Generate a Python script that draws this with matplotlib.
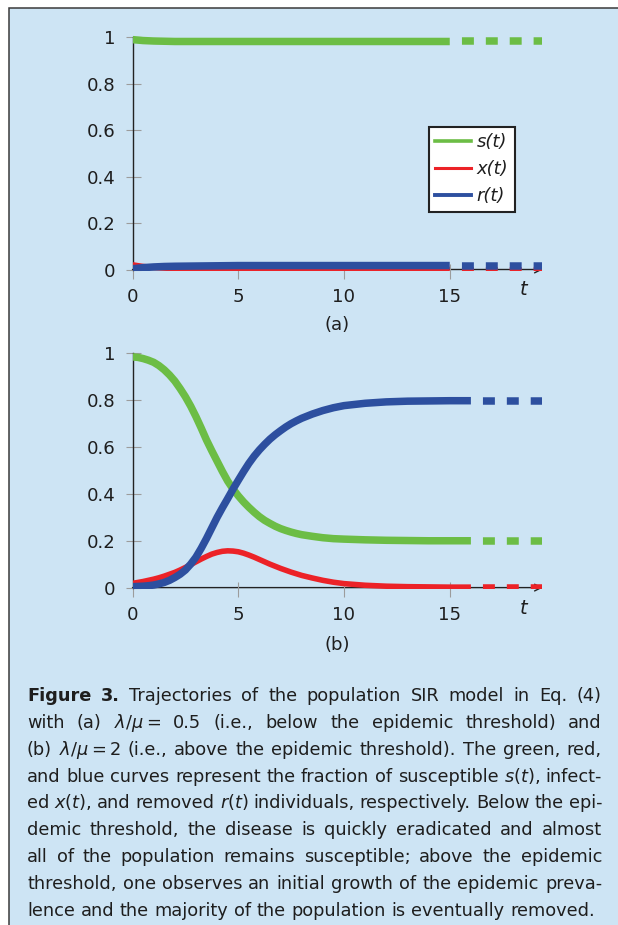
import matplotlib
matplotlib.use('Agg')
import matplotlib.pyplot as plt
from matplotlib.lines import Line2D
from matplotlib.patches import Rectangle
from matplotlib.transforms import IdentityTransform

plt.rcParams['font.family'] = ['DejaVu Sans']
plt.rcParams['mathtext.fontset'] = 'dejavusans'
plt.rcParams['lines.scale_dashes'] = False

W, H = 618, 925
BG = '#cde4f4'
GREEN = '#6cbd45'
RED = '#ec2227'
BLUE = '#2d4f9f'
INK = '#1e1e1e'

# panel (a): lambda/mu = 0.5
t_a = [0, 0.5, 1, 1.5, 2, 3, 4, 5, 6, 8, 10, 12, 15]
s_a = [0.990, 0.986, 0.984, 0.983, 0.982, 0.982, 0.982, 0.982, 0.982, 0.982, 0.982, 0.982, 0.982]
x_a = [0.020, 0.013, 0.009, 0.006, 0.004, 0.003, 0.002, 0.001, 0.001, 0.000, 0.000, 0.000, 0.000]
r_a = [0.003, 0.008, 0.011, 0.013, 0.014, 0.015, 0.016, 0.017, 0.017, 0.017, 0.017, 0.017, 0.017]

# panel (b): lambda/mu = 2
t_b = [0, 0.25, 0.5, 0.75, 1, 1.25, 1.5, 1.75, 2, 2.25, 2.5, 2.75, 3, 3.25, 3.5, 3.75,
       4, 4.25, 4.5, 4.75, 5, 5.25, 5.5, 5.75, 6, 6.25, 6.5, 6.75, 7, 7.25, 7.5, 7.75,
       8, 8.5, 9, 9.5, 10, 11, 12, 13, 14, 15, 16]
s_b = [0.985, 0.983, 0.978, 0.971, 0.962, 0.948, 0.930, 0.908, 0.882, 0.850, 0.815,
       0.775, 0.730, 0.681, 0.630, 0.584, 0.540, 0.496, 0.455, 0.421, 0.392, 0.366,
       0.343, 0.322, 0.303, 0.287, 0.274, 0.262, 0.252, 0.244, 0.237, 0.231, 0.226,
       0.219, 0.213, 0.209, 0.207, 0.204, 0.202, 0.201, 0.200, 0.200, 0.200]
x_b = [0.018, 0.022, 0.026, 0.031, 0.036, 0.042, 0.049, 0.057, 0.065, 0.075, 0.086,
       0.098, 0.110, 0.122, 0.133, 0.143, 0.150, 0.155, 0.157, 0.156, 0.153, 0.147,
       0.139, 0.130, 0.120, 0.110, 0.100, 0.091, 0.082, 0.074, 0.066, 0.059, 0.052,
       0.041, 0.031, 0.023, 0.017, 0.010, 0.006, 0.004, 0.003, 0.002, 0.002]
r_b = [0.004, 0.005, 0.006, 0.008, 0.011, 0.016, 0.022, 0.031, 0.043, 0.057, 0.075,
       0.100, 0.130, 0.168, 0.210, 0.255, 0.300, 0.341, 0.380, 0.420, 0.458, 0.495,
       0.530, 0.561, 0.588, 0.612, 0.634, 0.653, 0.670, 0.686, 0.700, 0.712, 0.723,
       0.741, 0.756, 0.768, 0.777, 0.787, 0.793, 0.796, 0.797, 0.798, 0.798]

t_end = 19.35
xticks = [0, 5, 10, 15]
yticks = [0, 0.2, 0.4, 0.6, 0.8, 1]
ytick_labels = ['0', '0.2', '0.4', '0.6', '0.8', '1']
legend_labels = ['s(t)', 'x(t)', 'r(t)']

caption_lines = [
    "Figure 3. Trajectories of the population SIR model in Eq. (4)",
    "with (a) $\\lambda/\\mu=$ 0.5 (i.e., below the epidemic threshold) and",
    "(b) $\\lambda/\\mu=$2 (i.e., above the epidemic threshold). The green, red,",
    "and blue curves represent the fraction of susceptible $s$($t$), infect-",
    "ed $x$($t$), and removed $r$($t$) individuals, respectively. Below the epi-",
    "demic threshold, the disease is quickly eradicated and almost",
    "all of the population remains susceptible; above the epidemic",
    "threshold, one observes an initial growth of the epidemic preva-",
    "lence and the majority of the population is eventually removed.",
]

LW = 5.4      # green / blue, points
LW_RED = 4.0
DASH = 8.6    # points on / off

fig = plt.figure(figsize=(W / 100, H / 100), dpi=100)
fig.patches.append(Rectangle((9 / W, -0.02), 1.0, 1 - 8 / H + 0.02,
                             transform=fig.transFigure, facecolor=BG,
                             edgecolor='#3a3a3a', lw=1.1, zorder=-10))

X0, PPX = 132.5, 21.15
YLO, YHI = -0.005, 1.03


def make_axes(y0, ppy):
    bottom = (H - (y0 - YLO * ppy)) / H
    height = (YHI - YLO) * ppy / H
    ax = fig.add_axes([X0 / W, bottom, 20 * PPX / W, height])
    ax.set_xlim(0, 20)
    ax.set_ylim(YLO, YHI)
    ax.patch.set_alpha(0)
    for side in ['top', 'right', 'bottom']:
        ax.spines[side].set_visible(False)
    ax.spines['left'].set_bounds(0, 1)
    ax.spines['left'].set_color('#222222')
    ax.spines['left'].set_linewidth(1.0)
    ax.set_xticks(xticks)
    ax.set_yticks(yticks)
    ax.set_yticklabels(ytick_labels)
    ax.tick_params(direction='inout', length=10.8, width=0.8, color='#9c9c9c',
                   labelsize=13.1, pad=7, labelcolor=INK)
    ax.annotate('', xy=(t_end + 0.05, 0), xytext=(0, 0),
                arrowprops=dict(arrowstyle='->', lw=1.0, color='#222222',
                                shrinkA=0, shrinkB=0, mutation_scale=12),
                annotation_clip=False, zorder=1)
    ax.text(18.5, -0.088, 't', style='italic', fontsize=14, ha='center',
            va='center', color=INK)
    return ax


def draw_curves(ax, t, s, x, r):
    for vals, col, lw in [(s, GREEN, LW), (x, RED, LW_RED), (r, BLUE, LW)]:
        ax.plot(t, vals, color=col, lw=lw, solid_capstyle='butt',
                solid_joinstyle='round', zorder=3)
        ax.plot([t[-1], t_end], [vals[-1], vals[-1]], color=col, lw=lw,
                linestyle=(DASH, (DASH, DASH)), dash_capstyle='butt', zorder=3)


ax_a = make_axes(269.5, 232.2)
draw_curves(ax_a, t_a, s_a, x_a, r_a)
ax_b = make_axes(587.6, 234.2)
draw_curves(ax_b, t_b, s_b, x_b, r_b)

handles = [Line2D([], [], color=GREEN, lw=2.6),
           Line2D([], [], color=RED, lw=2.2),
           Line2D([], [], color=BLUE, lw=2.8)]
leg = ax_a.legend(handles, legend_labels, loc='upper left',
                  bbox_to_anchor=(429 / W, 1 - 127 / H),
                  bbox_transform=fig.transFigure, fancybox=False,
                  edgecolor='#222222', facecolor='white', framealpha=1,
                  borderpad=0.35, borderaxespad=0, handlelength=2.0,
                  handletextpad=0.3, labelspacing=0.5,
                  prop={'style': 'italic', 'size': 13})
leg.get_frame().set_linewidth(1.5)
for txt in leg.get_texts():
    txt.set_color(INK)

fig.text(337 / W, 1 - 325 / H, '(a)', ha='center', va='center', fontsize=13.1, color=INK)
fig.text(337 / W, 1 - 645 / H, '(b)', ha='center', va='center', fontsize=13.1, color=INK)

# caption, justified word by word
CAP_FS = 12.8
renderer = fig.canvas.get_renderer()
probe1 = fig.text(0, 0, 'a a', fontsize=CAP_FS, transform=IdentityTransform())
probe2 = fig.text(0, 0, 'aa', fontsize=CAP_FS, transform=IdentityTransform())
space_w = probe1.get_window_extent(renderer).width - probe2.get_window_extent(renderer).width
probe1.remove()
probe2.remove()

cap_left, cap_right = 27, 602
for i, line in enumerate(caption_lines):
    words = line.split(' ')
    y = H - (701 + 26.875 * i)
    arts = []
    for j, w in enumerate(words):
        weight = 'bold' if (i == 0 and j < 2) else 'normal'
        arts.append(fig.text(0, y, w, transform=IdentityTransform(), fontsize=CAP_FS,
                             fontweight=weight, va='baseline', color=INK))
    widths = [a.get_window_extent(renderer).width for a in arts]
    if i < len(caption_lines) - 1:
        gap = (cap_right - cap_left - sum(widths)) / (len(words) - 1)
    else:
        gap = space_w
    xpos = cap_left
    for a, w in zip(arts, widths):
        a.set_x(xpos)
        xpos += w + gap

fig.savefig('out.png', dpi=100, facecolor='white')
